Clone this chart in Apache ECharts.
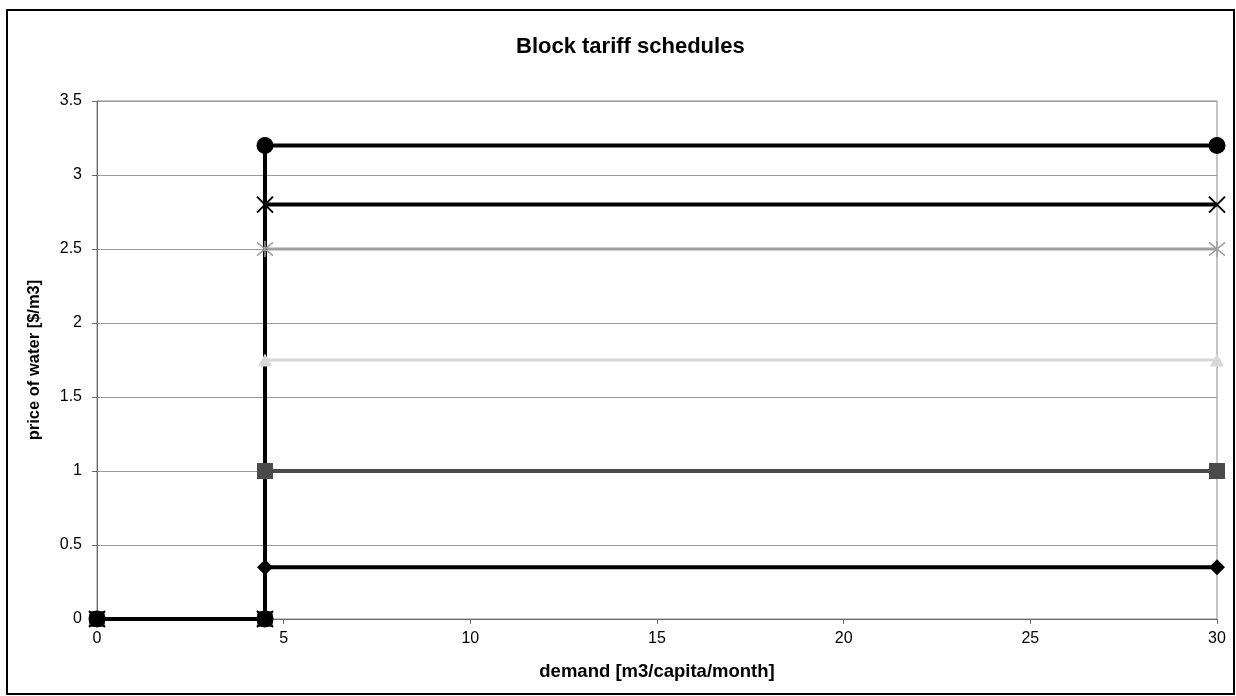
<!DOCTYPE html>
<html>
<head>
<meta charset="utf-8">
<script src="https://cdn.jsdelivr.net/npm/echarts@6/dist/echarts.min.js"></script>
<style>
  html, body { margin: 0; padding: 0; background: #ffffff; }
  #chart { width: 1236px; height: 696px; }
</style>
</head>
<body>
<div id="chart"></div>
<script>
// Demand break points of each block schedule (m3/capita/month)
const demand = [0, 4.5, 4.5, 30];

// Price of water along each schedule ($/m3)
const priceDiamond  = [0, 0, 0.35, 0.35];
const priceSquare   = [0, 0, 1.0, 1.0];
const priceTriangle = [0, 0, 1.75, 1.75];
const priceStar     = [0, 0, 2.5, 2.5];
const priceCross    = [0, 0, 2.8, 2.8];
const priceCircle   = [0, 0, 3.2, 3.2];

const titleText = 'Block tariff schedules';
const xAxisName = 'demand [m3/capita/month]';
const yAxisName = 'price of water [$/m3]';

const FONT = '"Liberation Sans", Arial, sans-serif';

const crossPath = 'path://M0,0L10,10M10,0L0,10';
const starPath = 'path://M0,0L10,10M10,0L0,10M5,-1L5,11';

// Styling for each schedule; lines are drawn first, markers above them
const schedules = [
  { name: 'Schedule 1', values: priceDiamond,  color: '#000000', width: 4, symbol: 'diamond',  size: [16, 16], lineZ: 3, stroke: 0 },
  { name: 'Schedule 2', values: priceSquare,   color: '#4a4a4a', width: 4, symbol: 'rect',     size: [16, 16], lineZ: 2, stroke: 0 },
  { name: 'Schedule 3', values: priceTriangle, color: '#d8d8d8', width: 3, symbol: 'triangle', size: [14, 13], lineZ: 2, stroke: 0 },
  { name: 'Schedule 4', values: priceStar,     color: '#a0a0a0', width: 3, symbol: starPath,   size: [16, 16], lineZ: 2, stroke: 1.5 },
  { name: 'Schedule 5', values: priceCross,    color: '#000000', width: 4, symbol: crossPath,  size: [16, 16], lineZ: 3, stroke: 2 },
  { name: 'Schedule 6', values: priceCircle,   color: '#000000', width: 4, symbol: 'circle',   size: [17, 17], lineZ: 4, stroke: 0 }
];

const pairs = (ys) => demand.map((x, i) => [x, ys[i]]);

const series = [];
schedules.forEach((s) => {
  series.push({
    name: s.name,
    type: 'line',
    data: pairs(s.values),
    z: s.lineZ,
    symbol: 'none',
    lineStyle: { color: s.color, width: s.width },
    silent: true
  });
});
schedules.forEach((s, i) => {
  series.push({
    name: s.name,
    type: 'scatter',
    data: pairs(s.values),
    z: 10 + i,
    symbol: s.symbol,
    symbolSize: s.size,
    itemStyle: {
      color: s.color,
      borderColor: s.color,
      borderWidth: s.stroke,
      opacity: 1
    },
    silent: true
  });
});

const chart = echarts.init(document.getElementById('chart'), null, { renderer: 'canvas' });

chart.setOption({
  animation: false,
  backgroundColor: '#ffffff',
  title: {
    text: titleText,
    left: 511,
    top: 31,
    textStyle: { fontFamily: FONT, fontSize: 22, fontWeight: 'bold', color: '#000' }
  },
  grid: {
    left: 97,
    right: 19,
    top: 101,
    bottom: 77,
    show: true,
    borderColor: '#8a8a8a',
    borderWidth: 1,
    backgroundColor: 'transparent'
  },
  xAxis: {
    type: 'value',
    min: 0,
    max: 30,
    interval: 5,
    name: xAxisName,
    nameLocation: 'middle',
    nameGap: 43,
    nameTextStyle: { fontFamily: FONT, fontSize: 18.5, fontWeight: 'bold', color: '#000' },
    axisLine: { show: true, lineStyle: { color: '#6a6a6a', width: 1 } },
    axisTick: { show: true, length: 5, lineStyle: { color: '#6a6a6a' } },
    axisLabel: { fontFamily: FONT, fontSize: 16, color: '#000', margin: 12 },
    splitLine: { show: false }
  },
  yAxis: {
    type: 'value',
    min: 0,
    max: 3.5,
    interval: 0.5,
    name: yAxisName,
    nameLocation: 'middle',
    nameGap: 54,
    nameTextStyle: { fontFamily: FONT, fontSize: 16.5, fontWeight: 'bold', color: '#000' },
    axisLine: { show: true, lineStyle: { color: '#6a6a6a', width: 1 } },
    axisTick: { show: true, length: 5, lineStyle: { color: '#6a6a6a' } },
    axisLabel: { fontFamily: FONT, fontSize: 16, color: '#000', margin: 15 },
    splitLine: { show: true, lineStyle: { color: '#9a9a9a', width: 1 } }
  },
  graphic: [
    {
      type: 'rect',
      silent: true,
      z: 100,
      shape: { x: 7, y: 10, width: 1227, height: 684 },
      style: { fill: 'none', stroke: '#000', lineWidth: 2 }
    }
  ],
  series: series
});
</script>
</body>
</html>
